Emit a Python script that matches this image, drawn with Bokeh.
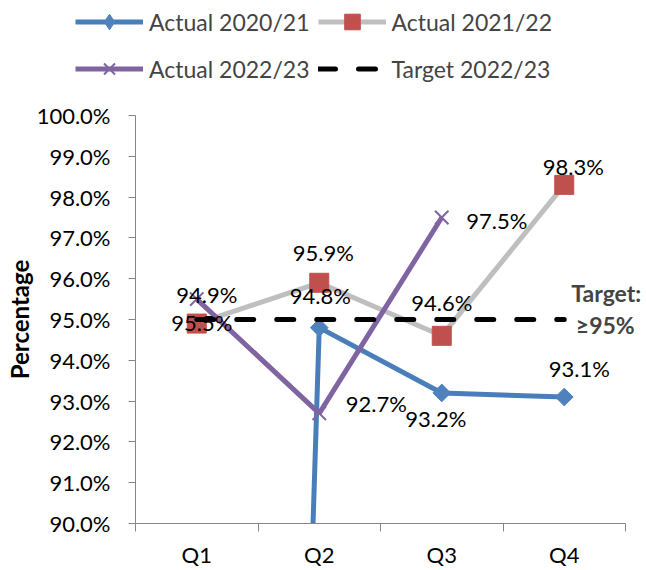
from bokeh.plotting import figure
from bokeh.layouts import column
from bokeh.models import (ColumnDataSource, Range1d, FixedTicker, PrintfTickFormatter,
                          Legend, LegendItem, Label)
from bokeh.core.properties import value
from bokeh.embed import file_html
from bokeh.resources import INLINE
import numpy as np

# ---------------- data ----------------
quarters = ["Q1", "Q2", "Q3", "Q4"]
actual_2020_21 = [0.0, 94.8, 93.2, 93.1]      # Q1 plotted as zero (off scale)
actual_2021_22 = [94.9, 95.9, 94.6, 98.3]
actual_2022_23 = [95.5, 92.7, 97.5]
target_2022_23 = [95.0, 95.0, 95.0, 95.0]
y_ticks = [90, 91, 92, 93, 94, 95, 96, 97, 98, 99, 100]
series_names = ["Actual 2020/21", "Actual 2021/22", "Actual 2022/23", "Target 2022/23"]

# label placement (screen px offsets from the point)
lab_2020_21 = {1: (1, -32), 2: (-6, 26), 3: (15, -29)}
lab_2021_22 = {0: (10, -29), 1: (4, -30), 2: (0, -33), 3: (9, -18)}
lab_2022_23 = {0: (5, 23), 1: (57, -10), 2: (55, 3)}

FONT = "Lato"
BLUE_L, BLUE_M = "#4A7EBB", "#4F81BD"
RED = "#C0504D"
GRAY = "#BFBFBF"
PURPLE = "#8064A2"
AXIS = "#868686"

xpos = [i + 0.5 for i in range(len(quarters))]
n = len(quarters)
x3 = xpos[:len(actual_2022_23)]
series = [(xpos, actual_2020_21), (xpos, actual_2021_22), (x3, actual_2022_23), (xpos, target_2022_23)]

styles = [
    dict(line=dict(line_color=BLUE_L, line_width=5),
         marker=dict(marker="square", angle=np.pi / 4, size=12.5, fill_color=BLUE_M, line_color=BLUE_M),
         legend_marker=dict(marker="diamond", fill_color=BLUE_M, line_color=BLUE_M)),
    dict(line=dict(line_color=GRAY, line_width=5),
         marker=dict(marker="square", size=19, fill_color=RED, line_color=RED),
         legend_marker=dict(marker="square", fill_color=RED, line_color=RED)),
    dict(line=dict(line_color=PURPLE, line_width=5),
         marker=dict(marker="x", size=19, line_color=PURPLE, line_width=2),
         legend_marker=dict(marker="x", line_color=PURPLE, line_width=2)),
    dict(line=dict(line_color="black", line_width=5, line_dash="17 23", line_cap="round"),
         marker=None, legend_marker=None),
]

# ---------------- main chart ----------------
p = figure(width=646, height=470, output_backend="svg", toolbar_location=None,
           x_range=Range1d(0, n + 21 / 122.5), y_range=Range1d(y_ticks[0], y_ticks[-1]),
           min_border_left=135, min_border_right=0, min_border_top=15, min_border_bottom=46)
p.outline_line_color = None
p.grid.visible = False
p.background_fill_color = "white"
p.frame_align = False

for (xs, ys), st in zip(series, styles):
    p.line(xs, ys, **st["line"])
    if st["marker"] is not None:
        p.scatter(xs, ys, **st["marker"])

# data labels
lx, ly, lt, ldx, ldy = [], [], [], [], []
for vals, labs, xs in ((actual_2020_21, lab_2020_21, xpos),
                       (actual_2021_22, lab_2021_22, xpos),
                       (actual_2022_23, lab_2022_23, x3)):
    for i, (dx, dy) in labs.items():
        lx.append(xs[i]); ly.append(vals[i]); lt.append(f"{vals[i]:.1f}%")
        ldx.append(dx); ldy.append(dy)
src = ColumnDataSource(dict(x=lx, y=ly, t=lt, dx=ldx, dy=ldy))
p.text(x="x", y="y", text="t", x_offset="dx", y_offset="dy", source=src,
       text_font=value(FONT), text_font_size="22px", text_color="black",
       text_align="center", text_baseline="middle")

# target annotation
p.add_layout(Label(x=xpos[-1], y=target_2022_23[-1], x_offset=42, y_offset=27,
                   text="Target:", text_font=FONT, text_font_size="23px",
                   text_font_style="bold", text_align="center", text_baseline="middle"))
p.add_layout(Label(x=xpos[-1], y=target_2022_23[-1], x_offset=41, y_offset=-5,
                   text=f"≥{target_2022_23[-1]:.0f}%", text_font=FONT, text_font_size="23px",
                   text_font_style="bold", text_align="center", text_baseline="middle"))

# axes
yax = p.yaxis[0]
yax.ticker = FixedTicker(ticks=y_ticks)
yax.formatter = PrintfTickFormatter(format="%.1f%%")
yax.axis_label = "Percentage"
yax.axis_label_text_font = FONT
yax.axis_label_text_font_size = "24px"
yax.axis_label_text_font_style = "bold"
yax.axis_label_text_line_height = 1.0
yax.axis_label_standoff = 0
yax.major_label_text_font = FONT
yax.major_label_text_font_size = "22px"
yax.major_label_standoff = 18
yax.major_tick_out = 7
yax.major_tick_in = 0
yax.minor_tick_line_color = None

xax = p.xaxis[0]
xax.bounds = (0, n)
xax.ticker = FixedTicker(ticks=xpos, minor_ticks=list(range(n + 1)))
xax.major_label_overrides = {x: q for x, q in zip(xpos, quarters)}
xax.major_label_text_font = FONT
xax.major_label_text_font_size = "22px"
xax.major_tick_out = 0
xax.major_tick_in = 0
xax.minor_tick_out = 8
xax.minor_tick_in = 0
xax.minor_tick_line_color = AXIS
xax.major_label_standoff = 9

for ax in (xax, yax):
    ax.axis_line_color = AXIS
    ax.major_tick_line_color = AXIS
    ax.major_label_text_color = "black"
    ax.axis_label_text_color = "black"

# ---------------- legend strip (same series, drawn out of view) ----------------
lg = figure(width=646, height=100, output_backend="svg", toolbar_location=None,
            x_axis_location=None, y_axis_location=None,
            x_range=Range1d(1000, 1001), y_range=Range1d(1000, 1001),
            min_border_left=0, min_border_right=0, min_border_top=0, min_border_bottom=0)
lg.outline_line_color = None
lg.grid.visible = False
lg.frame_align = False
items = []
for name, (xs, ys), st in zip(series_names, series, styles):
    rs = [lg.line(xs, ys, **st["line"])]
    if st["legend_marker"] is not None:
        rs.append(lg.scatter(xs, ys, **st["legend_marker"]))
    items.append(LegendItem(label=name, renderers=rs))
legend = Legend(items=items, orientation="horizontal", ncols=2, location=(75, 12),
                padding=0, margin=0, spacing=8, glyph_width=68, glyph_height=39,
                label_standoff=6, label_text_font=FONT, label_text_font_size="23px",
                border_line_color=None, background_fill_alpha=0)
lg.add_layout(legend, "center")

layout = column(lg, p, spacing=0)
open("out.html", "w").write(file_html(layout, INLINE))
